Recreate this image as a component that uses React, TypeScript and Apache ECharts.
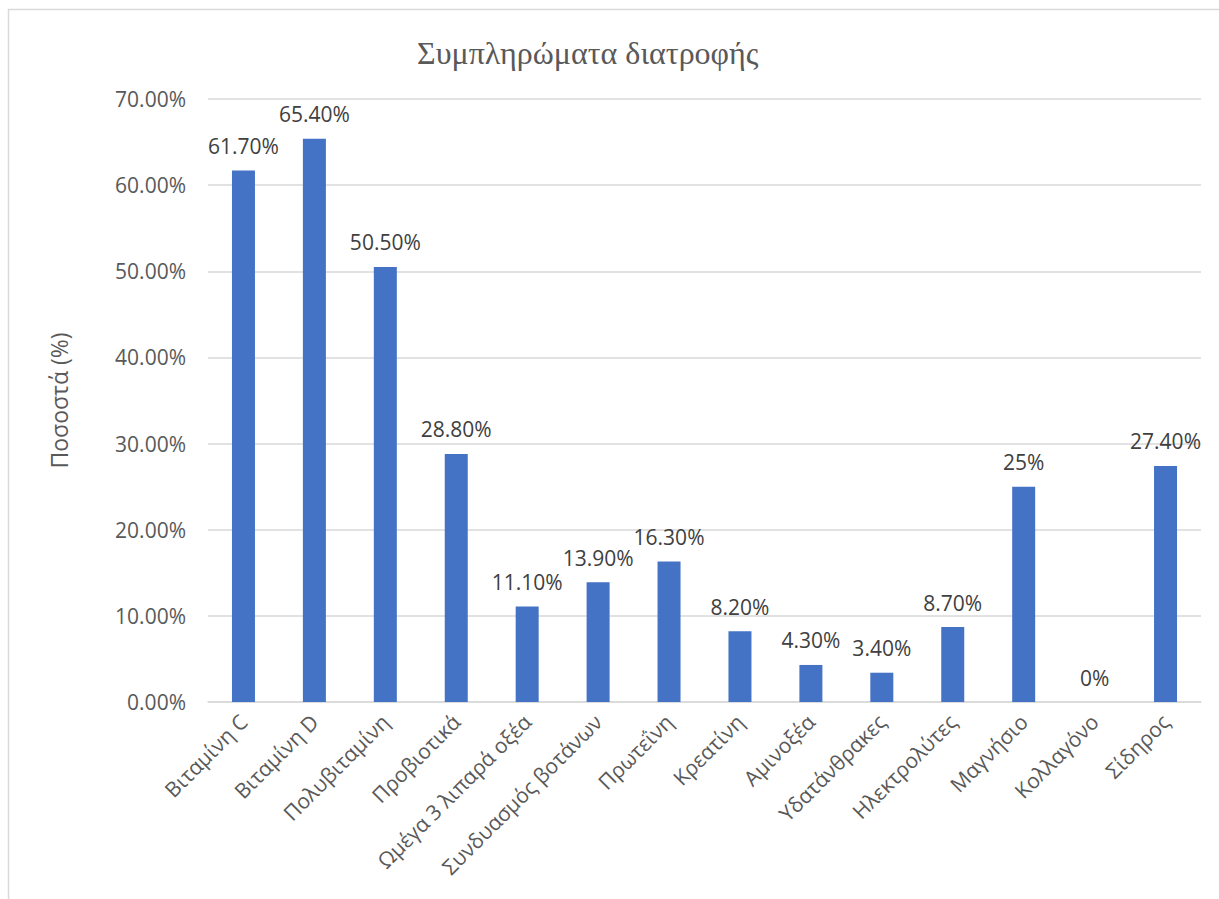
import React, { useEffect, useRef } from "react";
import * as echarts from "echarts";

// Supplement categories and the share of respondents using each one (%)
const categories = [
  "Βιταμίνη C",
  "Βιταμίνη D",
  "Πολυβιταμίνη",
  "Προβιοτικά",
  "Ωμέγα 3 λιπαρά οξέα",
  "Συνδυασμός βοτάνων",
  "Πρωτεΐνη",
  "Κρεατίνη",
  "Αμινοξέα",
  "Υδατάνθρακες",
  "Ηλεκτρολύτες",
  "Μαγνήσιο",
  "Κολλαγόνο",
  "Σίδηρος",
];
const values = [61.7, 65.4, 50.5, 28.8, 11.1, 13.9, 16.3, 8.2, 4.3, 3.4, 8.7, 25, 0, 27.4];
const valueLabels = [
  "61.70%",
  "65.40%",
  "50.50%",
  "28.80%",
  "11.10%",
  "13.90%",
  "16.30%",
  "8.20%",
  "4.30%",
  "3.40%",
  "8.70%",
  "25%",
  "0%",
  "27.40%",
];
const yMin = 0;
const yMax = 70;
const yStep = 10;

const TITLE = "Συμπληρώματα διατροφής";
const Y_NAME = "Ποσοστά (%)";

const SANS = "'Open Sans', 'Noto Sans', 'DejaVu Sans', sans-serif";
const SERIF = "'Liberation Serif', 'DejaVu Serif', serif";

export default function App() {
  const ref = useRef<HTMLDivElement | null>(null);

  useEffect(() => {
    if (!ref.current) return;
    const chart = echarts.init(ref.current, undefined, { renderer: "svg" });
    const W = ref.current.clientWidth;
    const H = ref.current.clientHeight;

    chart.setOption({
      animation: false,
      backgroundColor: "#ffffff",
      title: {
        text: TITLE,
        left: 412,
        top: 32,
        textStyle: {
          fontFamily: SERIF,
          fontSize: 32,
          fontWeight: "normal",
          color: "#595959",
        },
      },
      graphic: [
        {
          type: "line",
          shape: { x1: 8, y1: 9.5, x2: W, y2: 9.5 },
          style: { stroke: "#d9d9d9", lineWidth: 1.5 },
          silent: true,
        },
        {
          type: "line",
          shape: { x1: 8.5, y1: 9, x2: 8.5, y2: H },
          style: { stroke: "#d9d9d9", lineWidth: 1.5 },
          silent: true,
        },
      ],
      grid: {
        left: 208,
        right: W - 1201,
        top: 99,
        bottom: H - 702,
        containLabel: false,
      },
      xAxis: {
        type: "category",
        data: categories,
        axisTick: { show: false },
        axisLine: { lineStyle: { color: "#d9d9d9", width: 1.5 } },
        axisLabel: {
          interval: 0,
          rotate: 45,
          margin: 16,
          fontFamily: SANS,
          fontSize: 21,
          color: "#595959",
        },
      },
      yAxis: {
        type: "value",
        min: yMin,
        max: yMax,
        interval: yStep,
        name: Y_NAME,
        nameLocation: "middle",
        nameGap: 138,
        nameRotate: 90,
        nameTextStyle: {
          fontFamily: SANS,
          fontSize: 23,
          color: "#595959",
        },
        axisLine: { show: false },
        axisTick: { show: false },
        splitLine: { lineStyle: { color: "#d9d9d9", width: 1.5 } },
        axisLabel: {
          formatter: (v: number) => `${v.toFixed(2)}%`,
          margin: 22,
          fontFamily: SANS,
          fontSize: 21,
          color: "#595959",
        },
      },
      series: [
        {
          type: "bar",
          data: values,
          barWidth: 23,
          itemStyle: { color: "#4472C4" },
          label: {
            show: true,
            position: "top",
            distance: 14,
            fontFamily: SANS,
            fontSize: 21,
            color: "#404040",
            formatter: (p: any) => valueLabels[p.dataIndex],
          },
        },
      ],
    });

    return () => chart.dispose();
  }, []);

  return (
    <div
      ref={ref}
      style={{
        position: "fixed",
        left: 0,
        top: 0,
        width: "1219px",
        height: "899px",
      }}
    />
  );
}
